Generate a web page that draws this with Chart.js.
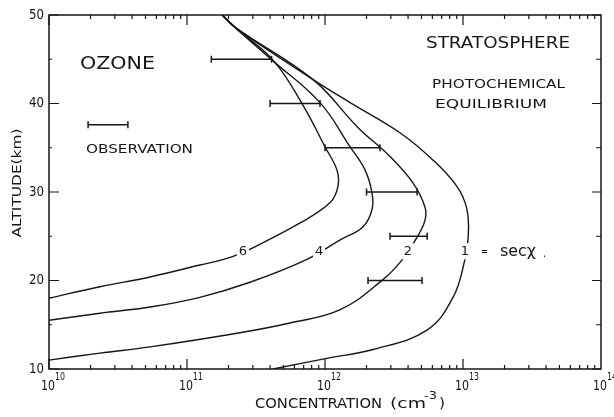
<!DOCTYPE html>
<html>
<head>
<meta charset="utf-8">
<script src="https://cdn.jsdelivr.net/npm/chart.js@4.4.0/dist/chart.umd.min.js"></script>
<style>
  body { margin: 0; background: #fff; }
</style>
</head>
<body>
<canvas id="ozone" width="614" height="417"></canvas>
<script>
// model profiles, concentration (cm-3) vs altitude (km), one per sec(chi)
var sec1Conc = [1.8e11, 2.23e11, 8.2e11, 1.52e12, 3.49e12, 6.07e12, 9.06e12, 1.07e13, 1.09e13, 1.03e13, 8.47e12, 5.48e12, 2.23e12, 1.03e12, 4.2e11];
var sec1Alt  = [50, 48.6, 42.7, 40.1, 36.7, 33.6, 30.6, 28.0, 24.9, 22.3, 18.1, 14.4, 12.2, 11.2, 10.0];

var sec2Conc = [1.8e11, 2.23e11, 8.2e11, 1.73e12, 2.96e12, 4.35e12, 5.3e12, 5.3e12, 4.65e12, 3.61e12, 2.63e12, 1.29e12, 5.57e11, 2.42e11, 5.4e10, 2.34e10, 1.0e10];
var sec2Alt  = [50, 48.6, 42.7, 37.3, 34.0, 31.0, 28.3, 26.8, 24.9, 22.3, 20.1, 16.7, 15.2, 14.1, 12.5, 11.8, 11.0];

var sec4Conc = [1.8e11, 2.23e11, 4.13e11, 9.2e11, 1.52e12, 1.95e12, 2.19e12, 2.19e12, 1.88e12, 1.29e12, 7.2e11, 2.86e11, 1.24e11, 5.4e10, 2.34e10, 1.0e10];
var sec4Alt  = [50, 48.6, 44.9, 40.1, 35.1, 32.5, 29.9, 28.0, 26.05, 24.6, 22.3, 19.8, 18.1, 17.0, 16.3, 15.5];

var sec6Conc = [1.8e11, 2.23e11, 4.2e11, 6.93e11, 1.0e12, 1.22e12, 1.24e12, 1.09e12, 6.6e11, 3.0e11, 1.95e11, 1.24e11, 5.4e10, 2.34e10, 1.0e10];
var sec6Alt  = [50, 48.6, 44.9, 39.8, 35.1, 32.5, 30.6, 28.8, 26.5, 23.7, 22.5, 21.75, 20.4, 19.3, 18.0];

// observations (horizontal ranges)
var obsAlt  = [45, 40, 35, 30, 25, 20];
var obsLow  = [1.5e11, 4.0e11, 1.0e12, 2.0e12, 2.96e12, 2.05e12];
var obsHigh = [4.1e11, 9.2e11, 2.5e12, 4.65e12, 5.5e12, 5.05e12];
var keyAlt = 37.6, keyLow = 1.92e10, keyHigh = 3.73e10;

// curve labels (sec chi values) placed in the gaps
var curveLabels = ['6', '4', '2', '1'];
var labelConc = [2.54e11, 9.06e11, 3.99e12, 1.03e13];
var labelAlt = 23.3;

// axes
var yTicks = [10, 20, 30, 40, 50];
var yMinor = [15, 25, 35, 45];
var xExps = [10, 11, 12, 13, 14];

var ink = '#161616';
var font = '"DejaVu Sans", sans-serif';

function pts(xs, ys) {
  var out = [];
  for (var i = 0; i < xs.length; i++) out.push({x: xs[i], y: ys[i]});
  return out;
}

function curve(xs, ys) {
  return {
    data: pts(xs, ys),
    borderColor: ink,
    borderWidth: 1.4,
    pointRadius: 0,
    tension: 0.4,
    fill: false
  };
}

function bar(lo, hi, alt) {
  return {
    data: [{x: lo, y: alt}, {x: hi, y: alt}],
    borderColor: ink,
    borderWidth: 1.4,
    tension: 0,
    pointStyle: 'line',
    pointRotation: 90,
    pointRadius: 3.5,
    pointBorderWidth: 1.5,
    pointBorderColor: ink,
    fill: false
  };
}

var datasets = [
  curve(sec1Conc, sec1Alt),
  curve(sec2Conc, sec2Alt),
  curve(sec4Conc, sec4Alt),
  curve(sec6Conc, sec6Alt)
];
for (var i = 0; i < obsAlt.length; i++) datasets.push(bar(obsLow[i], obsHigh[i], obsAlt[i]));
datasets.push(bar(keyLow, keyHigh, keyAlt));

// text squeezed/stretched to a given width
function txt(ctx, s, x, y, size, w, align) {
  ctx.save();
  ctx.font = size + 'px ' + font;
  ctx.textBaseline = 'middle';
  ctx.textAlign = 'left';
  var m = ctx.measureText(s).width;
  var k = w ? w / m : 1;
  var left = x;
  if (align === 'center') left = x - m * k / 2;
  if (align === 'right') left = x - m * k;
  ctx.translate(left, y);
  ctx.scale(k, 1);
  ctx.fillText(s, 0, 0);
  ctx.restore();
  return left + m * k;
}

var frame = {
  id: 'frame',
  afterDatasetsDraw: function(chart) {
    var ctx = chart.ctx, a = chart.chartArea;
    var xs = chart.scales.x, ys = chart.scales.y;
    ctx.save();
    ctx.fillStyle = ink;
    ctx.strokeStyle = ink;

    // curve labels with white gaps
    for (var i = 0; i < curveLabels.length; i++) {
      var px = xs.getPixelForValue(labelConc[i]);
      var py = ys.getPixelForValue(labelAlt);
      ctx.fillStyle = '#fff';
      ctx.fillRect(px - 6, py - 8, 12, 16);
      ctx.fillStyle = ink;
      txt(ctx, curveLabels[i], px, py, 13, 0, 'center');
    }

    // box
    ctx.lineWidth = 1.5;
    ctx.strokeRect(a.left, a.top, a.right - a.left, a.bottom - a.top);

    // y ticks, inward on both sides
    ctx.lineWidth = 1.2;
    ctx.beginPath();
    yTicks.concat(yMinor).forEach(function(v) {
      var y = ys.getPixelForValue(v);
      var major = yTicks.indexOf(v) >= 0;
      ctx.moveTo(a.left, y); ctx.lineTo(a.left + (major ? 10 : 3), y);
      ctx.moveTo(a.right, y); ctx.lineTo(a.right - (major ? 9 : 5), y);
    });
    // x ticks, inward on bottom and top
    for (var e = 10; e < 14; e++) {
      for (var m = 1; m <= 9; m++) {
        var x = xs.getPixelForValue(m * Math.pow(10, e));
        var len = m === 1 ? 10 : 4;
        ctx.moveTo(x, a.bottom); ctx.lineTo(x, a.bottom - len);
        ctx.moveTo(x, a.top); ctx.lineTo(x, a.top + len);
      }
    }
    ctx.stroke();

    // y tick labels
    yTicks.forEach(function(v) {
      txt(ctx, String(v), a.left - 5, ys.getPixelForValue(v), 14, 15, 'right');
    });
    // x tick labels 10^n
    xExps.forEach(function(n) {
      var x = xs.getPixelForValue(Math.pow(10, n));
      var end = txt(ctx, '10', x - 1, a.bottom + 17, 14, 14, 'center');
      txt(ctx, String(n), end, a.bottom + 8, 11, 10, 'left');
    });

    // axis titles
    ctx.save();
    ctx.translate(18, 183);
    ctx.rotate(-Math.PI / 2);
    txt(ctx, 'ALTITUDE(km)', 0, 0, 13, 109, 'center');
    ctx.restore();
    txt(ctx, 'CONCENTRATION', 255, 404, 14, 127, 'left');
    txt(ctx, '(cm', 390, 404, 14, 36, 'left');
    txt(ctx, '-3', 424, 396, 10, 13, 'left');
    txt(ctx, ')', 439, 404, 14, 6, 'left');

    // annotations
    txt(ctx, 'OZONE', 80, 64, 18, 75, 'left');
    txt(ctx, 'OBSERVATION', 86, 150, 12, 107, 'left');
    txt(ctx, 'STRATOSPHERE', 426, 44, 16, 144, 'left');
    txt(ctx, 'PHOTOCHEMICAL', 432, 85, 12, 133, 'left');
    txt(ctx, 'EQUILIBRIUM', 435, 105, 12, 112, 'left');
    txt(ctx, '=', 481, 252, 12, 7, 'left');
    txt(ctx, 'sec\u03c7', 500, 252, 15, 36, 'left');
    txt(ctx, '.', 543, 254, 12, 3, 'left');
    ctx.restore();
  }
};

new Chart(document.getElementById('ozone'), {
  type: 'line',
  data: {datasets: datasets},
  options: {
    responsive: false,
    animation: false,
    layout: {padding: {left: 49, right: 13, top: 15, bottom: 48}},
    plugins: {legend: {display: false}, tooltip: {enabled: false}},
    scales: {
      x: {
        type: 'logarithmic', min: 1e10, max: 1e14,
        ticks: {display: false},
        grid: {display: false, drawTicks: false},
        border: {display: false}
      },
      y: {
        type: 'linear', min: 10, max: 50,
        ticks: {display: false},
        grid: {display: false, drawTicks: false},
        border: {display: false}
      }
    }
  },
  plugins: [frame]
});
</script>
</body>
</html>
